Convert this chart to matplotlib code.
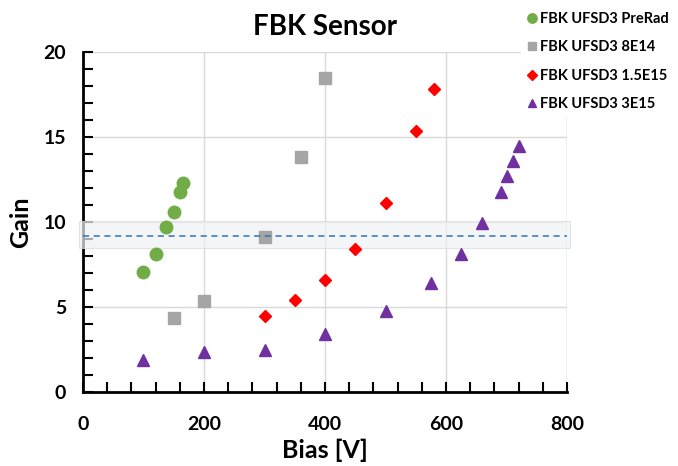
import matplotlib.pyplot as plt
from matplotlib.patches import Rectangle
from matplotlib.ticker import MultipleLocator

plt.rcParams["font.family"] = ["Lato", "DejaVu Sans"]
plt.rcParams["font.weight"] = "bold"

prerad_bias = [100, 120, 137, 150, 160, 165]
prerad_gain = [7.05, 8.1, 9.7, 10.6, 11.75, 12.3]

e14_bias = [150, 200, 300, 360, 400]
e14_gain = [4.35, 5.35, 9.1, 13.8, 18.5]

e15_bias = [300, 350, 400, 450, 500, 550, 580]
e15_gain = [4.5, 5.4, 6.6, 8.4, 11.1, 15.35, 17.8]

e3_bias = [100, 200, 300, 400, 500, 575, 625, 660, 690, 700, 710, 720]
e3_gain = [1.9, 2.35, 2.5, 3.4, 4.75, 6.4, 8.1, 9.95, 11.75, 12.7, 13.6, 14.5]

reference_gain = 9.18
band = (8.47, 10.06)


def main() -> None:
    fig = plt.figure(figsize=(6.78, 4.66), dpi=100)
    ax = fig.add_axes([0.1224, 0.1588, 0.7140, 0.7296])

    ax.plot(prerad_bias, prerad_gain, "o", color="#70ad47", ms=9, label="FBK UFSD3 PreRad", zorder=3)
    ax.plot(e14_bias, e14_gain, "s", color="#a5a5a5", ms=8, label="FBK UFSD3 8E14", zorder=3)
    ax.plot(e15_bias, e15_gain, "D", color="#ff0000", ms=6.5, label="FBK UFSD3 1.5E15", zorder=3)
    ax.plot(e3_bias, e3_gain, "^", color="#7030a0", ms=8.5, label="FBK UFSD3 3E15", zorder=3)

    # light highlighted strip around the reference gain
    ax.add_patch(Rectangle((-0.008, band[0]), 1.014, band[1] - band[0],
                           transform=ax.get_yaxis_transform(), facecolor="#eef1f5",
                           edgecolor="#dcdcdc", lw=0.8, alpha=0.7, zorder=2.7, clip_on=False))
    ax.axhline(reference_gain, color="#2e75b6", ls=(0, (4, 3)), lw=1.1, zorder=5)

    ax.set_xlim(0, 800)
    ax.set_ylim(0, 20)
    ax.xaxis.set_major_locator(MultipleLocator(200))
    ax.xaxis.set_minor_locator(MultipleLocator(40))
    ax.yaxis.set_major_locator(MultipleLocator(5))
    ax.yaxis.set_minor_locator(MultipleLocator(1))
    ax.tick_params(which="both", direction="in", length=7, width=1.5, color="black")
    ax.tick_params(axis="y", which="major", labelsize=14, pad=12)
    ax.tick_params(axis="x", which="major", labelsize=14, pad=17)
    for lab in ax.get_xticklabels() + ax.get_yticklabels():
        lab.set_fontweight("bold")

    ax.grid(which="major", color="#d9d9d9", lw=1)
    ax.set_axisbelow(True)
    for side in ("top", "right"):
        ax.spines[side].set_visible(False)
    for side in ("left", "bottom"):
        ax.spines[side].set_linewidth(2)
    ax.axvline(800, color="#d9d9d9", lw=1, zorder=0.5)

    ax.set_title("FBK Sensor", fontsize=20, fontweight="bold", pad=12)
    ax.set_xlabel("Bias [V]", fontsize=18, fontweight="bold", labelpad=4)
    ax.set_ylabel("Gain", fontsize=18, fontweight="bold", labelpad=8)

    leg = fig.legend(loc="upper left", bbox_to_anchor=(0.757, 1.0), frameon=True,
                     handletextpad=0.05, labelspacing=1.0, borderpad=0.3,
                     handlelength=1.0, markerscale=0.75, prop={"weight": "bold", "size": 10.5})
    leg.get_frame().set_facecolor("white")
    leg.get_frame().set_edgecolor("white")
    leg.get_frame().set_alpha(1)
    leg.set_zorder(10)

    fig.savefig("out.png", dpi=100)
    plt.close(fig)


if __name__ == "__main__":
    main()
